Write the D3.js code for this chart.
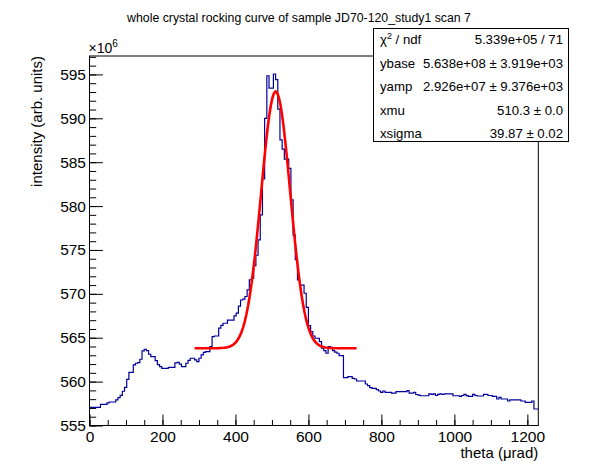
<!DOCTYPE html>
<html>
<head>
<meta charset="utf-8">
<script src="https://cdn.jsdelivr.net/npm/d3@7"></script>
<style>
  body { margin: 0; background: #fff; }
  svg { display: block; font-family: 'Liberation Sans', Arial, sans-serif; }
</style>
</head>
<body>
<div id="chart"></div>
<script>
// histogram steps: bin start (theta, urad) and intensity (x10^6)
var binStart = [0, 30, 48, 54, 72, 78, 84, 90, 96, 102, 108, 120, 126, 132, 138, 144, 150, 156, 162, 168,
    180, 186, 192, 198, 216, 234, 240, 246, 252, 264, 270, 276, 288, 294, 300, 306, 312, 318, 330, 336,
    342, 354, 360, 366, 378, 396, 402, 408, 414, 420, 426, 432, 438, 444, 450, 456, 462, 468, 474, 480,
    486, 492, 504, 510, 516, 522, 528, 534, 546, 552, 558, 564, 570, 576, 588, 594, 600, 606, 612, 618,
    630, 636, 642, 648, 654, 660, 666, 672, 678, 684, 696, 708, 720, 726, 732, 756, 762, 768, 774, 786,
    792, 798, 804, 810, 828, 840, 870, 876, 888, 894, 900, 906, 930, 936, 942, 948, 954, 960, 966, 972,
    996, 1014, 1020, 1026, 1032, 1038, 1050, 1056, 1062, 1080, 1092, 1104, 1116, 1122, 1128, 1146, 1152, 1182, 1194, 1212,
    1218];
var intensity = [557.07, 557.41, 557.57, 557.68, 557.91, 558.17, 558.44, 558.90, 559.35, 560.26, 561.06, 561.90, 562.09, 562.16, 562.55, 563.50, 563.69, 563.53, 563.12, 562.85,
    562.39, 561.94, 561.71, 561.52, 561.63, 562.13, 562.20, 562.00, 561.71, 562.09, 562.43, 562.66, 562.48, 562.28, 562.66, 563.04, 563.34, 563.42, 563.99, 565.13,
    565.20, 566.10, 566.40, 566.65, 567.00, 567.50, 567.80, 568.60, 569.30, 569.40, 569.70, 570.45, 571.60, 571.80, 573.20, 574.40, 576.15, 579.00, 583.10, 590.00,
    594.85, 593.45, 595.05, 594.40, 591.05, 587.55, 586.50, 585.35, 584.30, 580.70, 576.70, 573.90, 571.60, 571.00, 570.07, 568.47, 566.38, 565.70, 565.20, 564.94,
    564.56, 563.80, 563.53, 563.23, 564.00, 563.90, 563.53, 563.35, 563.23, 562.96, 560.45, 560.57, 560.38, 560.30, 560.07, 559.73, 559.54, 559.31, 559.24, 559.08,
    558.93, 558.78, 558.93, 558.78, 558.70, 558.86, 558.97, 558.70, 558.78, 558.53, 558.46, 558.39, 558.60, 558.55, 558.60, 558.42, 558.55, 558.60, 558.53, 558.60,
    558.39, 558.32, 558.42, 558.55, 558.40, 558.32, 558.55, 558.42, 558.36, 558.55, 558.42, 558.32, 558.02, 558.20, 558.02, 557.79, 557.91, 557.79, 557.64, 557.79,
    556.88];
var thetaMax = 1230;

// gaussian fit parameters from the stats box (intensity in 10^6)
var fitNames = ['ybase', 'yamp', 'xmu', 'xsigma'];
var fitValues = [563.8, 29.26, 510.3, 39.87];
var fitRange = [288, 732];

var statLabels = ['ndf', 'ybase', 'yamp', 'xmu', 'xsigma'];
var statTexts = ['5.339e+05 / 71', '5.638e+08 \u00b1 3.919e+03', '2.926e+07 \u00b1 9.376e+03', '510.3 \u00b1 0.0', '39.87 \u00b1 0.02'];

var xTicks = [0, 200, 400, 600, 800, 1000, 1200];
var yTicks = [555, 560, 565, 570, 575, 580, 585, 590, 595];

var W = 598, H = 474;
var margin = { top: 56, left: 89.5, bottom: 48.5, right: 59.7 },
    width = W - margin.left - margin.right,
    height = H - margin.top - margin.bottom;

var svg = d3.select('#chart').append('svg')
    .attr('width', W)
    .attr('height', H);

var g = svg.append('g')
    .attr('transform', 'translate(' + margin.left + ',' + margin.top + ')');

var x = d3.scaleLinear().domain([0, thetaMax]).range([0, width]);
var y = d3.scaleLinear().domain([555, 597.1]).range([height, 0]);

// axes, ticks pointing inward like ROOT
var xMinor = d3.axisBottom(x).tickValues(d3.range(0, thetaMax + 1, 50)).tickSize(-5.5).tickFormat('').tickSizeOuter(0);
var xMajor = d3.axisBottom(x).tickValues(xTicks).tickSize(-11).tickPadding(5.5).tickFormat(d3.format('d')).tickSizeOuter(0);
var yMinor = d3.axisLeft(y).tickValues(d3.range(555, 598, 1)).tickSize(-6.7).tickFormat('').tickSizeOuter(0);
var yMajor = d3.axisLeft(y).tickValues(yTicks).tickSize(-13.4).tickPadding(3.5).tickFormat(d3.format('d')).tickSizeOuter(0);

[xMinor, xMajor].forEach(function (ax) {
    g.append('g').attr('class', 'axis').attr('transform', 'translate(0,' + height + ')').call(ax);
});
[yMinor, yMajor].forEach(function (ax) {
    g.append('g').attr('class', 'axis').call(ax);
});
g.selectAll('.axis .domain').remove();
g.selectAll('.axis line').attr('stroke', '#000').attr('stroke-width', 1);
g.selectAll('.axis text')
    .attr('fill', '#000')
    .style('font-size', '15.5px')
    .style('font-family', "'Liberation Sans', Arial, sans-serif");

// histogram
var pts = binStart.map(function (b, i) { return [b, intensity[i]]; });
pts.push([thetaMax, intensity[intensity.length - 1]]);

var step = d3.line()
    .x(d => x(d[0]))
    .y(d => y(d[1]))
    .curve(d3.curveStepAfter);

g.append('path')
    .datum(pts)
    .attr('d', step)
    .attr('fill', 'none')
    .attr('stroke', '#000099')
    .attr('stroke-width', 1.2);

// fitted gaussian
var fitX = d3.range(0, 101).map(i => fitRange[0] + (fitRange[1] - fitRange[0]) * i / 100);
var gaus = function (t) {
    var z = (t - fitValues[2]) / fitValues[3];
    return fitValues[0] + fitValues[1] * Math.exp(-0.5 * z * z);
};

g.append('path')
    .datum(fitX)
    .attr('d', d3.line().x(d => x(d)).y(d => y(gaus(d))))
    .attr('fill', 'none')
    .attr('stroke', '#ff0000')
    .attr('stroke-width', 2.6);

// frame
g.append('rect')
    .attr('width', width)
    .attr('height', height)
    .attr('fill', 'none')
    .attr('stroke', '#000')
    .attr('stroke-width', 1);

// titles
svg.append('text')
    .attr('x', 299)
    .attr('y', 22)
    .attr('text-anchor', 'middle')
    .style('font-size', '12.3px')
    .text('whole crystal rocking curve of sample JD70-120_study1 scan 7');

svg.append('text')
    .attr('x', margin.left + width)
    .attr('y', 458)
    .attr('text-anchor', 'end')
    .style('font-size', '15px')
    .text('theta (\u03bcrad)');

svg.append('text')
    .attr('transform', 'translate(42,' + margin.top + ') rotate(-90)')
    .attr('text-anchor', 'end')
    .style('font-size', '15px')
    .text('intensity (arb. units)');

var mult = svg.append('text')
    .attr('x', margin.left - 1)
    .attr('y', 53)
    .style('font-size', '14px')
    .text('\u00d710');
mult.append('tspan').attr('dy', -6).style('font-size', '10px').text('6');

// stats box
var box = { x: 373, y: 28, w: 195, h: 113 };
svg.append('rect')
    .attr('x', box.x + 0.5)
    .attr('y', box.y + 0.5)
    .attr('width', box.w)
    .attr('height', box.h)
    .attr('fill', '#fff')
    .attr('stroke', '#000')
    .attr('stroke-width', 1);

statLabels.forEach(function (lab, i) {
    var cy = box.y + box.h * (0.105 + 0.2075 * i) + 4.5;
    var t = svg.append('text')
        .attr('x', box.x + 7)
        .attr('y', cy)
        .style('font-size', '13.2px');
    if (i === 0) {
        t.text('\u03c7');
        t.append('tspan').attr('dy', -5).style('font-size', '9px').text('2');
        t.append('tspan').attr('dy', 5).text(' / ndf');
    } else {
        t.text(lab);
    }
    svg.append('text')
        .attr('x', box.x + box.w - 5)
        .attr('y', cy)
        .attr('text-anchor', 'end')
        .style('font-size', '13.2px')
        .text(statTexts[i]);
});
</script>
</body>
</html>
